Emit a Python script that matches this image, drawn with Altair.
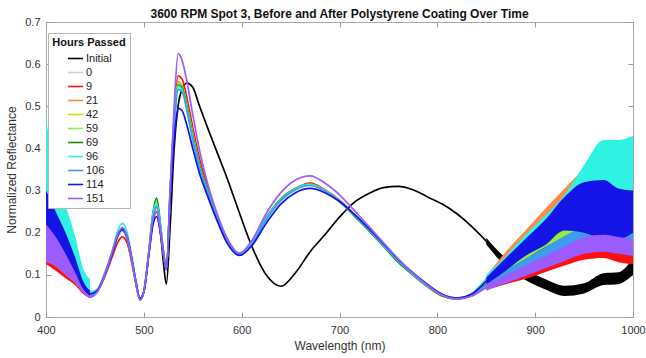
import altair as alt
import pandas as pd

# ---------------- data ----------------
SERIES = ["Initial", "0", "9", "21", "42", "59", "69", "96", "106", "114", "151"]
COLORS = ["#000000", "#cfcfcf", "#ff1010", "#ff8a45", "#cde000", "#93f03a",
          "#148f14", "#2ff2e2", "#3d9cf0", "#1414e6", "#9a5cff"]

WL = [400, 410, 420, 430, 438, 445, 452, 460, 468, 474, 478, 483, 488, 492, 496,
      500, 505, 509, 513, 517, 520, 523, 527, 531, 535, 539, 544, 550, 557, 565,
      575, 585, 598, 610, 625, 640, 655, 670, 685, 700, 715, 730, 745, 760, 775,
      790, 805, 820, 835, 850, 870, 890, 910, 930, 950, 970, 985, 1000]

INITIAL = [0.15, 0.13, 0.11, 0.085, 0.062, 0.05, 0.06, 0.1, 0.155, 0.195, 0.205, 0.185, 0.13, 0.08, 0.042,
           0.06, 0.15, 0.23, 0.262, 0.2, 0.13, 0.078, 0.22, 0.4, 0.5, 0.54, 0.555, 0.545, 0.5, 0.45,
           0.39, 0.33, 0.245, 0.17, 0.1, 0.073, 0.105, 0.155, 0.195, 0.237, 0.272, 0.293, 0.307, 0.31, 0.302,
           0.285, 0.268, 0.245, 0.215, 0.18, 0.13, 0.1, 0.078, 0.062, 0.068, 0.09, 0.092, 0.12]
H0 = [0.15, 0.13, 0.11, 0.085, 0.062, 0.05, 0.06, 0.1, 0.155, 0.195, 0.205, 0.185, 0.13, 0.08, 0.042,
      0.06, 0.15, 0.23, 0.262, 0.21, 0.155, 0.115, 0.3, 0.46, 0.545, 0.54, 0.5, 0.435, 0.36, 0.3,
      0.235, 0.18, 0.148, 0.175, 0.235, 0.28, 0.305, 0.315, 0.3, 0.275, 0.24, 0.205, 0.168, 0.13, 0.1,
      0.072, 0.05, 0.043, 0.052, 0.075, 0.1, 0.12, 0.135, 0.15, 0.16, 0.155, 0.15, 0.155]
H9 = [0.14, 0.12, 0.1, 0.08, 0.058, 0.048, 0.058, 0.095, 0.145, 0.18, 0.19, 0.175, 0.125, 0.078, 0.042,
      0.06, 0.148, 0.22, 0.25, 0.2, 0.15, 0.113, 0.3, 0.47, 0.572, 0.565, 0.52, 0.45, 0.375, 0.31,
      0.24, 0.185, 0.15, 0.175, 0.235, 0.28, 0.305, 0.318, 0.302, 0.277, 0.243, 0.207, 0.17, 0.132, 0.1,
      0.072, 0.05, 0.043, 0.05, 0.07, 0.085, 0.1, 0.118, 0.135, 0.15, 0.158, 0.15, 0.15]
H21 = [0.15, 0.13, 0.11, 0.085, 0.062, 0.05, 0.06, 0.1, 0.155, 0.198, 0.208, 0.188, 0.132, 0.08, 0.042,
       0.06, 0.15, 0.235, 0.268, 0.212, 0.155, 0.115, 0.3, 0.46, 0.558, 0.55, 0.505, 0.435, 0.36, 0.3,
       0.235, 0.18, 0.148, 0.175, 0.235, 0.28, 0.305, 0.315, 0.3, 0.275, 0.242, 0.207, 0.17, 0.133, 0.102,
       0.074, 0.052, 0.045, 0.056, 0.09, 0.14, 0.185, 0.235, 0.28, 0.32, 0.34, 0.32, 0.3]
H42 = [0.16, 0.14, 0.115, 0.088, 0.063, 0.05, 0.06, 0.1, 0.155, 0.197, 0.207, 0.187, 0.131, 0.08, 0.042,
       0.06, 0.152, 0.238, 0.275, 0.215, 0.155, 0.115, 0.3, 0.46, 0.555, 0.548, 0.503, 0.433, 0.36, 0.3,
       0.235, 0.18, 0.148, 0.175, 0.235, 0.28, 0.305, 0.315, 0.3, 0.275, 0.24, 0.205, 0.168, 0.13, 0.1,
       0.072, 0.05, 0.043, 0.054, 0.08, 0.11, 0.14, 0.175, 0.21, 0.235, 0.23, 0.2, 0.19]
H59 = [0.17, 0.145, 0.12, 0.09, 0.064, 0.051, 0.06, 0.1, 0.155, 0.197, 0.207, 0.187, 0.131, 0.08, 0.042,
       0.06, 0.152, 0.24, 0.278, 0.218, 0.155, 0.115, 0.3, 0.46, 0.553, 0.546, 0.5, 0.432, 0.36, 0.3,
       0.235, 0.18, 0.148, 0.175, 0.235, 0.28, 0.305, 0.315, 0.3, 0.275, 0.24, 0.205, 0.168, 0.13, 0.1,
       0.072, 0.05, 0.043, 0.054, 0.078, 0.105, 0.135, 0.17, 0.2, 0.225, 0.22, 0.19, 0.18]
H69 = [0.16, 0.14, 0.115, 0.088, 0.062, 0.05, 0.06, 0.1, 0.155, 0.197, 0.207, 0.187, 0.131, 0.08, 0.042,
       0.06, 0.153, 0.242, 0.282, 0.22, 0.155, 0.115, 0.3, 0.46, 0.55, 0.545, 0.5, 0.43, 0.36, 0.3,
       0.235, 0.18, 0.148, 0.175, 0.235, 0.28, 0.305, 0.315, 0.3, 0.275, 0.24, 0.205, 0.168, 0.13, 0.1,
       0.072, 0.05, 0.043, 0.053, 0.078, 0.1, 0.125, 0.15, 0.17, 0.185, 0.185, 0.17, 0.17]
H96 = [0.33, 0.25, 0.19, 0.14, 0.085, 0.06, 0.065, 0.105, 0.16, 0.21, 0.222, 0.2, 0.14, 0.085, 0.045,
       0.062, 0.152, 0.24, 0.27, 0.215, 0.158, 0.115, 0.3, 0.455, 0.548, 0.54, 0.495, 0.425, 0.355, 0.297,
       0.232, 0.178, 0.147, 0.174, 0.233, 0.278, 0.304, 0.314, 0.3, 0.276, 0.242, 0.207, 0.17, 0.133, 0.102,
       0.074, 0.052, 0.044, 0.055, 0.09, 0.13, 0.175, 0.215, 0.255, 0.3, 0.33, 0.33, 0.33]
H106 = [0.19, 0.16, 0.13, 0.095, 0.066, 0.052, 0.062, 0.1, 0.155, 0.198, 0.208, 0.188, 0.132, 0.08, 0.042,
        0.06, 0.15, 0.232, 0.262, 0.21, 0.155, 0.115, 0.298, 0.45, 0.54, 0.535, 0.49, 0.42, 0.352, 0.295,
        0.232, 0.178, 0.147, 0.172, 0.23, 0.276, 0.302, 0.312, 0.299, 0.276, 0.243, 0.208, 0.171, 0.134, 0.103,
        0.075, 0.052, 0.044, 0.053, 0.075, 0.1, 0.125, 0.15, 0.175, 0.195, 0.2, 0.19, 0.18]
H114 = [0.24, 0.2, 0.16, 0.115, 0.072, 0.055, 0.062, 0.1, 0.153, 0.197, 0.208, 0.19, 0.135, 0.083, 0.044,
        0.06, 0.145, 0.215, 0.238, 0.2, 0.15, 0.113, 0.28, 0.42, 0.495, 0.49, 0.455, 0.4, 0.34, 0.288,
        0.228, 0.176, 0.146, 0.168, 0.222, 0.268, 0.295, 0.305, 0.295, 0.274, 0.244, 0.21, 0.174, 0.137, 0.105,
        0.077, 0.054, 0.045, 0.054, 0.085, 0.125, 0.165, 0.2, 0.245, 0.26, 0.255, 0.245, 0.25]
H151 = [0.18, 0.155, 0.125, 0.09, 0.062, 0.047, 0.058, 0.1, 0.157, 0.2, 0.212, 0.19, 0.133, 0.08, 0.04,
        0.06, 0.15, 0.228, 0.25, 0.205, 0.152, 0.112, 0.31, 0.5, 0.625, 0.61, 0.56, 0.48, 0.395, 0.318,
        0.245, 0.188, 0.152, 0.18, 0.245, 0.295, 0.325, 0.335, 0.318, 0.29, 0.253, 0.215, 0.176, 0.138, 0.104,
        0.075, 0.052, 0.043, 0.05, 0.07, 0.09, 0.11, 0.13, 0.15, 0.17, 0.175, 0.17, 0.165]
LINES = [INITIAL, H0, H9, H21, H42, H59, H69, H96, H106, H114, H151]

# noisy envelopes (low / high) at the noisy short- and long-wavelength ends
BAND_WL = [400, 410, 420, 430, 438, 445, 850, 870, 890, 910, 930, 950, 970, 985, 1000]
LO_INITIAL = [0.145, 0.125, 0.105, 0.082, 0.06, 0.048, 0.172, 0.12, 0.088, 0.066, 0.05, 0.056, 0.076, 0.078, 0.1]
HI_INITIAL = [0.155, 0.135, 0.115, 0.088, 0.064, 0.052, 0.188, 0.14, 0.112, 0.09, 0.074, 0.08, 0.104, 0.106, 0.14]
LO_H0 = [0.14, 0.12, 0.1, 0.08, 0.058, 0.047, 0.07, 0.092, 0.11, 0.124, 0.138, 0.146, 0.14, 0.136, 0.14]
HI_H0 = [0.16, 0.14, 0.12, 0.09, 0.066, 0.053, 0.08, 0.108, 0.13, 0.146, 0.162, 0.174, 0.17, 0.164, 0.17]
LO_H9 = [0.125, 0.11, 0.092, 0.075, 0.055, 0.046, 0.065, 0.078, 0.09, 0.106, 0.122, 0.136, 0.14, 0.13, 0.125]
HI_H9 = [0.16, 0.135, 0.11, 0.086, 0.061, 0.05, 0.075, 0.092, 0.11, 0.13, 0.148, 0.165, 0.175, 0.17, 0.175]
LO_H21 = [0.135, 0.12, 0.1, 0.08, 0.058, 0.047, 0.082, 0.125, 0.168, 0.214, 0.255, 0.29, 0.305, 0.29, 0.27]
HI_H21 = [0.165, 0.14, 0.12, 0.09, 0.066, 0.053, 0.098, 0.155, 0.205, 0.256, 0.305, 0.35, 0.375, 0.35, 0.33]
LO_H42 = [0.145, 0.128, 0.105, 0.082, 0.059, 0.047, 0.073, 0.098, 0.125, 0.155, 0.188, 0.21, 0.205, 0.18, 0.17]
HI_H42 = [0.18, 0.155, 0.125, 0.094, 0.067, 0.053, 0.087, 0.122, 0.155, 0.195, 0.232, 0.26, 0.255, 0.22, 0.21]
LO_H59 = [0.15, 0.13, 0.108, 0.083, 0.06, 0.048, 0.071, 0.093, 0.12, 0.15, 0.178, 0.2, 0.195, 0.17, 0.16]
HI_H59 = [0.19, 0.16, 0.132, 0.097, 0.068, 0.054, 0.085, 0.117, 0.15, 0.19, 0.222, 0.25, 0.245, 0.21, 0.2]
LO_H69 = [0.145, 0.128, 0.105, 0.082, 0.059, 0.047, 0.072, 0.09, 0.112, 0.134, 0.152, 0.165, 0.165, 0.152, 0.15]
HI_H69 = [0.175, 0.152, 0.125, 0.094, 0.065, 0.053, 0.084, 0.11, 0.138, 0.166, 0.188, 0.205, 0.205, 0.188, 0.19]
LO_H96 = [0.2, 0.17, 0.14, 0.11, 0.07, 0.052, 0.08, 0.115, 0.155, 0.19, 0.22, 0.245, 0.245, 0.24, 0.235]
HI_H96 = [0.47, 0.34, 0.265, 0.19, 0.115, 0.09, 0.1, 0.145, 0.195, 0.24, 0.29, 0.36, 0.42, 0.42, 0.43]
LO_H106 = [0.17, 0.145, 0.12, 0.088, 0.062, 0.049, 0.068, 0.09, 0.112, 0.135, 0.158, 0.176, 0.18, 0.17, 0.16]
HI_H106 = [0.21, 0.175, 0.14, 0.102, 0.07, 0.055, 0.082, 0.11, 0.138, 0.165, 0.192, 0.214, 0.22, 0.21, 0.2]
LO_H114 = [0.18, 0.16, 0.13, 0.1, 0.065, 0.05, 0.077, 0.11, 0.145, 0.17, 0.205, 0.2, 0.185, 0.185, 0.2]
HI_H114 = [0.3, 0.25, 0.2, 0.14, 0.085, 0.062, 0.093, 0.14, 0.185, 0.23, 0.285, 0.32, 0.325, 0.305, 0.3]
LO_H151 = [0.13, 0.12, 0.1, 0.08, 0.058, 0.044, 0.062, 0.08, 0.097, 0.115, 0.133, 0.15, 0.155, 0.15, 0.145]
HI_H151 = [0.22, 0.19, 0.15, 0.105, 0.066, 0.05, 0.078, 0.1, 0.123, 0.145, 0.167, 0.19, 0.195, 0.19, 0.185]
LOWS = [LO_INITIAL, LO_H0, LO_H9, LO_H21, LO_H42, LO_H59, LO_H69, LO_H96, LO_H106, LO_H114, LO_H151]
HIGHS = [HI_INITIAL, HI_H0, HI_H9, HI_H21, HI_H42, HI_H59, HI_H69, HI_H96, HI_H106, HI_H114, HI_H151]

X_TICKS = [400, 500, 600, 700, 800, 900, 1000]
Y_TICKS = [0, 0.1, 0.2, 0.3, 0.4, 0.5, 0.6, 0.7]

# ---------------- tables ----------------
line_rows = []
for name, vals in zip(SERIES, LINES):
    assert len(vals) == len(WL), name
    for w, v in zip(WL, vals):
        line_rows.append({"wl": w, "val": v, "series": name})
lines_df = pd.DataFrame(line_rows)

band_rows = []
for name, lo, hi in zip(SERIES, LOWS, HIGHS):
    assert len(lo) == len(BAND_WL) and len(hi) == len(BAND_WL), name
    for w, a, b in zip(BAND_WL, lo, hi):
        band_rows.append({"wl": w, "lo": a, "hi": b, "series": name,
                          "seg": "short" if w < 600 else "long"})
bands_df = pd.DataFrame(band_rows)

FONT = "Liberation Sans"
W, H = 587, 295
TICK = 5
x_scale = alt.Scale(domain=[400, 1000], nice=False, zero=False)
# inward MATLAB-style ticks on both bottom and top via a dashed grid
x_axis = alt.Axis(title="Wavelength (nm)", values=X_TICKS, format="d", labelFlush=False,
                  grid=True, gridDash=[TICK, H - 2 * TICK, TICK], gridColor="#9a9a9a")
y_scale = alt.Scale(domain=[0, 0.7], nice=False)
y_axis = alt.Axis(title="Normalized Reflectance", values=Y_TICKS, format="~g", labelFlush=False,
                  grid=True, gridDash=[TICK, W - 2 * TICK, TICK], gridColor="#9a9a9a")
color_scale = alt.Scale(domain=SERIES, range=COLORS)

legend = alt.Legend(title="Hours Passed", orient="none", legendX=2, legendY=11,
                    symbolType="stroke", symbolSize=230, symbolStrokeWidth=1.6,
                    strokeColor="#b5b5b5", fillColor="white", padding=4,
                    rowPadding=0, titleFontSize=11, titleFontWeight="bold",
                    titleColor="#111", labelFontSize=11, labelColor="#222",
                    titleFont=FONT, labelFont=FONT, labelOffset=2,
                    titlePadding=2, titleAnchor="middle", offset=0)

layers = []
for i, name in enumerate(SERIES):
    ln = alt.Chart(lines_df).transform_filter(alt.datum.series == name).mark_line(
        strokeWidth=1.7, interpolate="monotone", clip=True
    ).encode(
        x=alt.X("wl:Q", scale=x_scale, axis=x_axis),
        y=alt.Y("val:Q", scale=y_scale, axis=y_axis),
        color=alt.Color("series:N", scale=color_scale, legend=legend),
        order=alt.Order("wl:Q"),
    )
    ar = alt.Chart(bands_df).transform_filter(alt.datum.series == name).mark_area(
        opacity=1, interpolate="monotone", clip=True
    ).encode(
        x=alt.X("wl:Q", scale=x_scale, axis=x_axis),
        y=alt.Y("lo:Q", scale=y_scale, axis=y_axis),
        y2="hi:Q",
        color=alt.Color("series:N", scale=color_scale, legend=legend),
        detail="seg:N",
    )
    layers.extend([ln, ar])

chart = alt.layer(*layers).properties(
    width=W, height=H,
    title=alt.TitleParams("3600 RPM Spot 3, Before and After Polystyrene Coating Over Time",
                          fontSize=12, fontWeight="bold", font=FONT, color="#111",
                          offset=-5),
    autosize=alt.AutoSizeParams(type="none"),
    padding={"left": 46, "top": 22, "right": 13, "bottom": 41},
).configure(background="white").configure_view(
    stroke="#a9a9a9", strokeWidth=1
).configure_axis(
    labelFont=FONT, titleFont=FONT, labelFontSize=11, titleFontSize=12,
    labelColor="#333", titleColor="#333", titleFontWeight="normal",
    domain=False, ticks=False
).configure_axisX(labelPadding=7, titlePadding=5).configure_axisY(
    labelPadding=6, titlePadding=6
)

chart.save("out.html", embed_options={"renderer": "svg", "actions": False})
